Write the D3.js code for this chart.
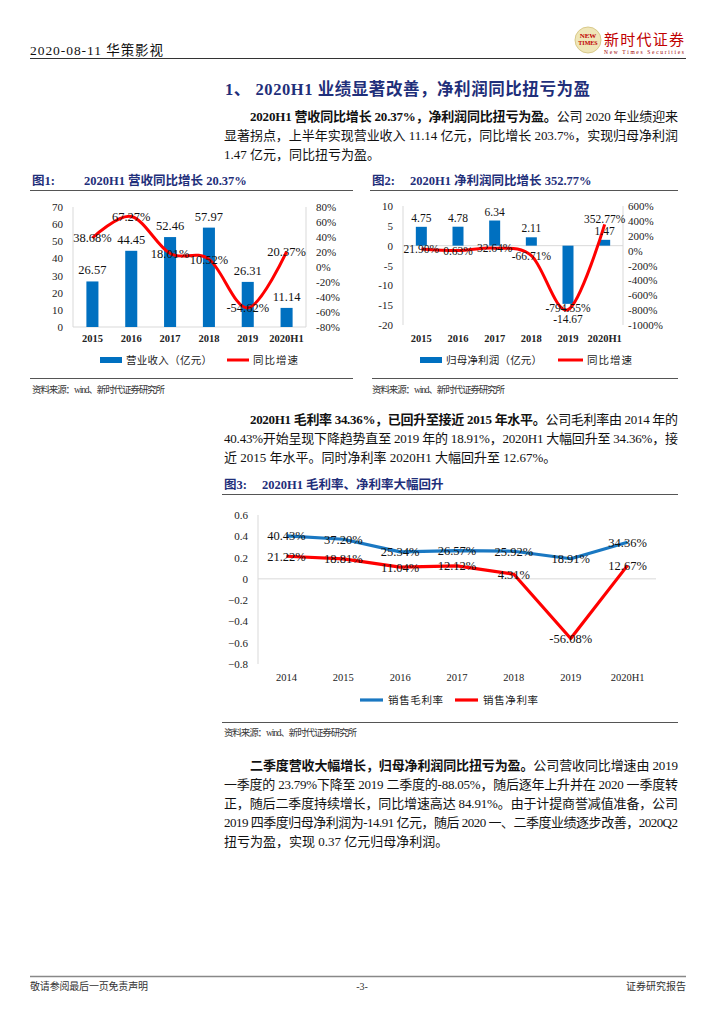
<!DOCTYPE html>
<html><head><meta charset="utf-8">
<script src="https://cdn.jsdelivr.net/npm/d3@7"></script>
<style>
html,body{margin:0;padding:0;background:#fff;}
svg{display:block;}
</style></head>
<body>
<script>
// ---------------- DATA ----------------
const cats1 = ["2015","2016","2017","2018","2019","2020H1"];
const revenue = [26.57,44.45,52.46,57.97,26.31,11.14];
const revGrowth = [38.68,67.27,18.01,10.52,-54.62,20.37];
const revLeftTicks = [0,10,20,30,40,50,60,70];
const revRightTicks = [-80,-60,-40,-20,0,20,40,60,80];

const profit = [4.75,4.78,6.34,2.11,-14.67,1.47];
const profitGrowth = [21.90,0.63,32.64,-66.71,-794.55,352.77];
const profLeftTicks = [-20,-15,-10,-5,0,5,10];
const profRightTicks = [-1000,-800,-600,-400,-200,0,200,400,600];

const cats3 = ["2014","2015","2016","2017","2018","2019","2020H1"];
const grossMargin = [0.4043,0.3720,0.2534,0.2657,0.2592,0.1891,0.3436];
const netMargin = [0.2122,0.1881,0.1104,0.1212,0.0431,-0.5608,0.1267];
const marginTicks = [-0.8,-0.6,-0.4,-0.2,0,0.2,0.4,0.6];

// ---------------- STYLE ----------------
const SERIF = "'Liberation Serif','Times New Roman','Noto Sans CJK SC',serif";
const CJK = "'Liberation Serif','Noto Sans CJK SC',sans-serif";
const NAVY = "#1f2f7a";
const BAR = "#0070c0";
const RED = "#ff0000";
const BLUE_LINE = "#1a78c2";
const AXIS = "#d9d9d9";

const svg = d3.select("body").append("svg").attr("width",724).attr("height",1024)
  .style("background","#fff");

function txt(x,y,s,o={}){
  const t = svg.append("text").attr("x",x).attr("y",y).text(s)
    .attr("font-family",o.ff||CJK).attr("font-size",o.fs||13)
    .attr("fill",o.fill||"#111");
  if(o.fw) t.attr("font-weight",o.fw);
  if(o.anchor) t.attr("text-anchor",o.anchor);
  if(o.len) t.attr("textLength",o.len).attr("lengthAdjust","spacing");
  return t;
}
function rich(x,y,segs,len,fs){
  const t = svg.append("text").attr("x",x).attr("y",y)
    .attr("font-family",CJK).attr("font-size",fs||13).attr("fill","#111");
  segs.forEach(s=>{
    t.append("tspan").text(s[0]).attr("font-weight",s[1]?"bold":"normal");
  });
  if(len) t.attr("textLength",len).attr("lengthAdjust","spacing");
  return t;
}
function hline(x1,x2,y,c,w){
  svg.append("line").attr("x1",x1).attr("x2",x2).attr("y1",y).attr("y2",y)
    .attr("stroke",c).attr("stroke-width",w||1);
}

// ---------------- HEADER ----------------
txt(30,55,"2020-08-11 华策影视",{fs:13.5,len:133});
hline(30,686,58.5,"#333",1);
// logo
svg.append("circle").attr("cx",588).attr("cy",40).attr("r",13).attr("fill","#efe6b8").attr("stroke","#d9c98a");
txt(588,38,"NEW",{fs:7,fill:"#c00000",anchor:"middle",ff:SERIF,fw:"bold"});
txt(588,45,"TIMES",{fs:6,fill:"#c00000",anchor:"middle",ff:SERIF,fw:"bold"});
txt(604,45,"新时代证券",{fs:15,fill:"#c00000",len:80});
txt(604,54,"New Times Securities",{fs:5.5,fill:"#a00000",ff:SERIF,len:80});

// heading
txt(225,95,"1、 2020H1 业绩显著改善，净利润同比扭亏为盈",{fs:16.5,fw:"bold",fill:NAVY,len:365});

// paragraph 1
rich(250,120.5,[["2020H1 营收同比增长 20.37%，净利润同比扭亏为盈。",1],["公司 2020 年业绩迎来",0]],428);
rich(224,139.5,[["显著拐点，上半年实现营业收入 11.14 亿元，同比增长 203.7%，实现归母净利润",0]],454);
rich(224,158.5,[["1.47 亿元，同比扭亏为盈。",0]]);

// ---------------- CHART TITLES ----------------
function figTitle(x,y,lab,x2,s,lineX1,lineX2,ly){
  txt(x,y,lab,{fs:12.5,fw:"bold",fill:NAVY});
  txt(x2,y,s,{fs:12.5,fw:"bold",fill:NAVY});
  hline(lineX1,lineX2,ly,"#555",1);
}
figTitle(32,185,"图1:",84,"2020H1 营收同比增长 20.37%",30,353,190.5);
figTitle(372,185,"图2:",410,"2020H1 净利润同比增长 352.77%",370,678,190.5);

// ---------------- CHART 1 ----------------
(function(){
  const x0=73,x1=306,yTop=207,yBot=327;
  const xb = d3.scaleBand().domain(cats1).range([x0,x1]).paddingInner(0.69).paddingOuter(0.345);
  const yL = d3.scaleLinear().domain([0,70]).range([yBot,yTop]);
  const yR = d3.scaleLinear().domain([-80,80]).range([yBot,yTop]);
  const g = svg.append("g");
  g.append("line").attr("x1",x0).attr("x2",x0).attr("y1",yTop).attr("y2",yBot).attr("stroke",AXIS);
  g.append("line").attr("x1",x1).attr("x2",x1).attr("y1",yTop).attr("y2",yBot).attr("stroke",AXIS);
  g.append("line").attr("x1",x0).attr("x2",x1).attr("y1",yL(0)).attr("y2",yL(0)).attr("stroke",AXIS);
  revLeftTicks.forEach(t=>g.append("text").attr("x",x0-10).attr("y",yL(t)+4).attr("text-anchor","end")
    .attr("font-family",SERIF).attr("font-size",11).attr("fill","#222").text(t));
  revRightTicks.forEach(t=>g.append("text").attr("x",x1+10).attr("y",yR(t)+4)
    .attr("font-family",SERIF).attr("font-size",11).attr("fill","#222").text(t+"%"));
  g.selectAll(".b").data(revenue).enter().append("rect")
    .attr("x",(d,i)=>xb(cats1[i])).attr("width",xb.bandwidth())
    .attr("y",d=>yL(d)).attr("height",d=>yL(0)-yL(d)).attr("fill",BAR);
  const cx = i=>xb(cats1[i])+xb.bandwidth()/2;
  const line = d3.line().x((d,i)=>cx(i)).y(d=>yR(d)).curve(d3.curveCatmullRom.alpha(0));
  g.append("path").attr("d",line(revGrowth)).attr("fill","none").attr("stroke",RED).attr("stroke-width",3);
  revenue.forEach((v,i)=>g.append("text").attr("x",cx(i)).attr("y",yL(v)-7).attr("text-anchor","middle")
    .attr("font-family",SERIF).attr("font-size",12.5).attr("fill","#111").text(v.toFixed(2)));
  revGrowth.forEach((v,i)=>g.append("text").attr("x",cx(i)).attr("y",yR(v)+4.5).attr("text-anchor","middle")
    .attr("font-family",SERIF).attr("font-size",12.5).attr("fill","#111").text(v.toFixed(2)+"%"));
  cats1.forEach((c,i)=>g.append("text").attr("x",cx(i)).attr("y",342).attr("text-anchor","middle")
    .attr("font-family",SERIF).attr("font-size",10.5).attr("font-weight","bold").attr("fill","#222").text(c));
  // legend
  g.append("rect").attr("x",100).attr("y",357).attr("width",22).attr("height",6).attr("fill",BAR);
  g.append("text").attr("x",126).attr("y",364).attr("font-family",CJK).attr("font-size",10.5).attr("fill","#222")
    .attr("textLength",86).attr("lengthAdjust","spacing").text("营业收入（亿元）");
  g.append("line").attr("x1",227).attr("x2",249).attr("y1",360).attr("y2",360).attr("stroke",RED).attr("stroke-width",3);
  g.append("text").attr("x",253).attr("y",364).attr("font-family",CJK).attr("font-size",10.5).attr("fill","#222")
    .attr("textLength",45).attr("lengthAdjust","spacing").text("同比增速");
})();

// ---------------- CHART 2 ----------------
(function(){
  const x0=403,x1=623,yTop=206,yBot=325;
  const xb = d3.scaleBand().domain(cats1).range([x0,x1]).paddingInner(0.7).paddingOuter(0.35);
  const yL = d3.scaleLinear().domain([-20,10]).range([yBot,yTop]);
  const yR = d3.scaleLinear().domain([-1000,600]).range([yBot,yTop]);
  const g = svg.append("g");
  g.append("line").attr("x1",x0).attr("x2",x0).attr("y1",yTop).attr("y2",yBot).attr("stroke",AXIS);
  g.append("line").attr("x1",x1).attr("x2",x1).attr("y1",yTop).attr("y2",yBot).attr("stroke",AXIS);
  g.append("line").attr("x1",x0).attr("x2",x1).attr("y1",yL(0)).attr("y2",yL(0)).attr("stroke",AXIS);
  profLeftTicks.forEach(t=>g.append("text").attr("x",x0-10).attr("y",yL(t)+4).attr("text-anchor","end")
    .attr("font-family",SERIF).attr("font-size",11).attr("fill","#222").text(t));
  profRightTicks.forEach(t=>g.append("text").attr("x",x1+5).attr("y",yR(t)+4)
    .attr("font-family",SERIF).attr("font-size",11).attr("fill","#222").text(t+"%"));
  g.selectAll(".b").data(profit).enter().append("rect")
    .attr("x",(d,i)=>xb(cats1[i])).attr("width",xb.bandwidth())
    .attr("y",d=>Math.min(yL(d),yL(0))).attr("height",d=>Math.abs(yL(0)-yL(d))).attr("fill",BAR);
  const cx = i=>xb(cats1[i])+xb.bandwidth()/2;
  const line = d3.line().x((d,i)=>cx(i)).y(d=>yR(d)).curve(d3.curveCatmullRom.alpha(0));
  g.append("path").attr("d",line(profitGrowth)).attr("fill","none").attr("stroke",RED).attr("stroke-width",3);
  profit.forEach((v,i)=>g.append("text").attr("x",cx(i)).attr("y",v>=0?yL(v)-5:yL(v)+19).attr("text-anchor","middle")
    .attr("font-family",SERIF).attr("font-size",11.5).attr("fill","#111").text(v.toFixed(2)));
  // last-point label nudged up and 2019 label nudged up a little to limit overlap with bar labels
  const nudge = [0,0,0,0,-2,-5];
  profitGrowth.forEach((v,i)=>g.append("text").attr("x",cx(i)).attr("y",yR(v)+4+nudge[i]).attr("text-anchor","middle")
    .attr("font-family",SERIF).attr("font-size",11.5).attr("fill","#111").text(v.toFixed(2)+"%"));
  cats1.forEach((c,i)=>g.append("text").attr("x",cx(i)).attr("y",342).attr("text-anchor","middle")
    .attr("font-family",SERIF).attr("font-size",10.5).attr("font-weight","bold").attr("fill","#222").text(c));
  g.append("rect").attr("x",420).attr("y",357).attr("width",22).attr("height",6).attr("fill",BAR);
  g.append("text").attr("x",446).attr("y",364).attr("font-family",CJK).attr("font-size",10.5).attr("fill","#222")
    .attr("textLength",96).attr("lengthAdjust","spacing").text("归母净利润（亿元）");
  g.append("line").attr("x1",558).attr("x2",583).attr("y1",360).attr("y2",360).attr("stroke",RED).attr("stroke-width",3);
  g.append("text").attr("x",587).attr("y",364).attr("font-family",CJK).attr("font-size",10.5).attr("fill","#222")
    .attr("textLength",45).attr("lengthAdjust","spacing").text("同比增速");
})();

// sources for charts 1 & 2
hline(30,353,378.5,"#555",1);
hline(372,678,378.5,"#555",1);
txt(32,393,"资料来源：wind、新时代证券研究所",{fs:9.5,fill:"#333",len:133});
txt(372,393,"资料来源：wind、新时代证券研究所",{fs:9.5,fill:"#333",len:133});

// paragraph 2
rich(250,423.5,[["2020H1 毛利率 34.36%，已回升至接近 2015 年水平。",1],["公司毛利率由 2014 年的",0]],428);
rich(224,442.5,[["40.43%开始呈现下降趋势直至 2019 年的 18.91%，2020H1 大幅回升至 34.36%，接",0]],454);
rich(224,461.5,[["近 2015 年水平。同时净利率 2020H1 大幅回升至 12.67%。",0]]);

figTitle(224,489,"图3:",262,"2020H1 毛利率、净利率大幅回升",222,678,494.5);

// ---------------- CHART 3 ----------------
(function(){
  const x0=258,x1=656,yTop=515,yBot=664;
  const xp = d3.scalePoint().domain(cats3).range([x0,x1]).padding(0.5);
  const y = d3.scaleLinear().domain([-0.8,0.6]).range([yBot,yTop]);
  const g = svg.append("g");
  g.append("line").attr("x1",x0).attr("x2",x0).attr("y1",yTop).attr("y2",yBot).attr("stroke",AXIS);
  g.append("line").attr("x1",x0).attr("x2",x1).attr("y1",y(0)).attr("y2",y(0)).attr("stroke",AXIS);
  marginTicks.forEach(t=>g.append("text").attr("x",x0-10).attr("y",y(t)+4).attr("text-anchor","end")
    .attr("font-family",SERIF).attr("font-size",11).attr("fill","#222").text(t===0?"0":d3.format(".1f")(t)));
  const line = d3.line().x((d,i)=>xp(cats3[i])).y(d=>y(d));
  g.append("path").attr("d",line(grossMargin)).attr("fill","none").attr("stroke",BLUE_LINE).attr("stroke-width",3.2).attr("stroke-linejoin","round");
  g.append("path").attr("d",line(netMargin)).attr("fill","none").attr("stroke",RED).attr("stroke-width",3.2).attr("stroke-linejoin","round");
  [grossMargin,netMargin].forEach(arr=>arr.forEach((v,i)=>g.append("text").attr("x",xp(cats3[i])).attr("y",y(v)+4.5)
    .attr("text-anchor","middle").attr("font-family",SERIF).attr("font-size",12.5).attr("fill","#111")
    .text((v*100).toFixed(2)+"%")));
  cats3.forEach(c=>g.append("text").attr("x",xp(c)).attr("y",681).attr("text-anchor","middle")
    .attr("font-family",SERIF).attr("font-size",10.5).attr("fill","#222").text(c));
  g.append("line").attr("x1",360).attr("x2",383).attr("y1",700).attr("y2",700).attr("stroke",BLUE_LINE).attr("stroke-width",3.2);
  g.append("text").attr("x",388).attr("y",704).attr("font-family",CJK).attr("font-size",10.5).attr("fill","#222")
    .attr("textLength",55).attr("lengthAdjust","spacing").text("销售毛利率");
  g.append("line").attr("x1",455).attr("x2",478).attr("y1",700).attr("y2",700).attr("stroke",RED).attr("stroke-width",3.2);
  g.append("text").attr("x",483).attr("y",704).attr("font-family",CJK).attr("font-size",10.5).attr("fill","#222")
    .attr("textLength",55).attr("lengthAdjust","spacing").text("销售净利率");
})();

hline(222,678,722.5,"#555",1);
txt(224,736,"资料来源：wind、新时代证券研究所",{fs:9.5,fill:"#333",len:133});

// paragraph 3
rich(250,769.5,[["二季度营收大幅增长，归母净利润同比扭亏为盈。",1],["公司营收同比增速由 2019",0]],428);
rich(224,788.5,[["一季度的 23.79%下降至 2019 二季度的-88.05%，随后逐年上升并在 2020 一季度转",0]],454);
rich(224,807.5,[["正，随后二季度持续增长，同比增速高达 84.91%。由于计提商誉减值准备，公司",0]],454);
rich(224,826.5,[["2019 四季度归母净利润为-14.91 亿元，随后 2020 一、二季度业绩逐步改善，2020Q2",0]],454);
rich(224,845.5,[["扭亏为盈，实现 0.37 亿元归母净利润。",0]]);

// ---------------- FOOTER ----------------
hline(30,686,976.5,"#888",1.5);
txt(30,990,"敬请参阅最后一页免责声明",{fs:10,fill:"#333",len:118});
txt(362,990,"-3-",{fs:10,fill:"#333",anchor:"middle",ff:SERIF});
txt(686,990,"证券研究报告",{fs:10,fill:"#333",anchor:"end"});
</script>
</body></html>
